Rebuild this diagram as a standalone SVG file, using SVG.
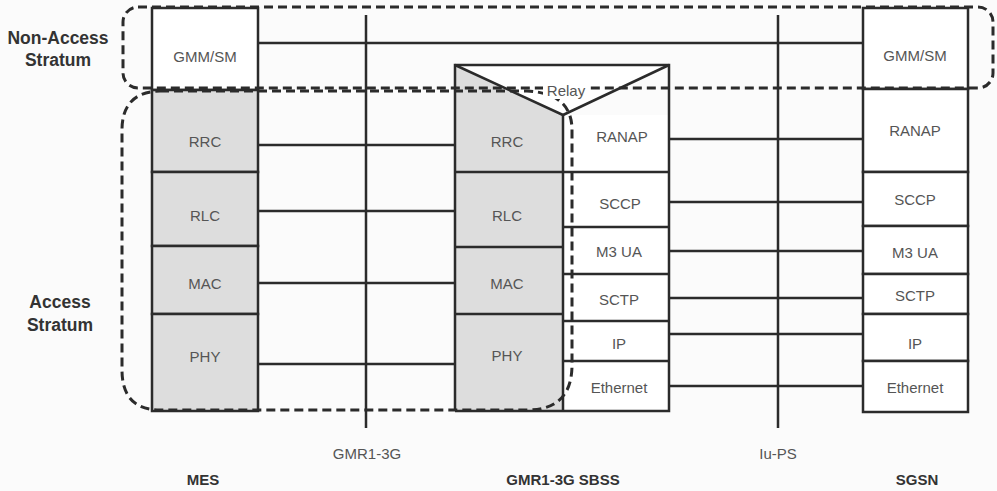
<svg xmlns="http://www.w3.org/2000/svg" width="997" height="491" viewBox="0 0 997 491">
<style>
.bg{fill:#fbfbfb}
.box{fill:#ffffff;stroke:#2b2b2b;stroke-width:2.5}
.gbox{fill:#dddddd;stroke:#2b2b2b;stroke-width:2.5}
.ln{stroke:#2b2b2b;stroke-width:2.5;fill:none}
.dash{stroke:#2b2b2b;stroke-width:3;fill:none;stroke-dasharray:9 5}
.lbl{font-family:"Liberation Sans",Arial,sans-serif;font-size:15px;fill:#555555;text-anchor:middle;dominant-baseline:central}
.bold{font-family:"Liberation Sans",Arial,sans-serif;font-size:15px;font-weight:bold;fill:#333333;text-anchor:middle}
.side{font-family:"Liberation Sans",Arial,sans-serif;font-size:17.5px;font-weight:bold;fill:#333333;text-anchor:middle}
</style>
<rect class="bg" x="0" y="0" width="997" height="491"/>

<g id="connectors">
<line class="ln" x1="366" y1="15" x2="366" y2="428"/>
<line class="ln" x1="778" y1="15" x2="778" y2="428"/>
<line class="ln" x1="258" y1="43" x2="863" y2="43"/>
<line class="ln" x1="258" y1="145" x2="455" y2="145"/>
<line class="ln" x1="258" y1="211" x2="455" y2="211"/>
<line class="ln" x1="258" y1="283" x2="455" y2="283"/>
<line class="ln" x1="258" y1="364" x2="455" y2="364"/>
<line class="ln" x1="669" y1="139" x2="863" y2="139"/>
<line class="ln" x1="669" y1="202" x2="863" y2="202"/>
<line class="ln" x1="669" y1="251" x2="863" y2="251"/>
<line class="ln" x1="669" y1="298" x2="863" y2="298"/>
<line class="ln" x1="669" y1="334" x2="863" y2="334"/>
<line class="ln" x1="669" y1="386" x2="863" y2="386"/>
</g>

<g id="mes">
<rect class="box" x="152" y="8" width="106" height="82"/>
<rect class="gbox" x="152" y="90" width="106" height="82"/>
<rect class="gbox" x="152" y="172" width="106" height="74"/>
<rect class="gbox" x="152" y="246" width="106" height="68"/>
<rect class="gbox" x="152" y="314" width="106" height="97"/>
<text class="lbl" x="205" y="56">GMM/SM</text>
<text class="lbl" x="205" y="141">RRC</text>
<text class="lbl" x="205" y="215">RLC</text>
<text class="lbl" x="205" y="283">MAC</text>
<text class="lbl" x="205" y="356">PHY</text>
<text class="bold" x="203" y="485">MES</text>
</g>

<g id="sbss">
<polygon points="455,65 563,115 563,411 455,411" fill="#dddddd"/>
<polygon points="455,65 669,65 563,115" fill="#ffffff"/>
<rect x="563" y="115" width="106" height="296" fill="#ffffff"/>
<polyline class="ln" points="455,411 455,65 669,65 669,411 455,411"/>
<polyline class="ln" points="455,65 563,115 669,65"/>
<line class="ln" x1="563" y1="115" x2="563" y2="411"/>
<line class="ln" x1="455" y1="172" x2="563" y2="172"/>
<line class="ln" x1="455" y1="247" x2="563" y2="247"/>
<line class="ln" x1="455" y1="314" x2="563" y2="314"/>
<line class="ln" x1="563" y1="172" x2="669" y2="172"/>
<line class="ln" x1="563" y1="227" x2="669" y2="227"/>
<line class="ln" x1="563" y1="274" x2="669" y2="274"/>
<line class="ln" x1="563" y1="321" x2="669" y2="321"/>
<line class="ln" x1="563" y1="361" x2="669" y2="361"/>
<text class="lbl" x="507" y="141">RRC</text>
<text class="lbl" x="507" y="215">RLC</text>
<text class="lbl" x="507" y="283">MAC</text>
<text class="lbl" x="507" y="355">PHY</text>
<text class="lbl" x="622" y="136">RANAP</text>
<text class="lbl" x="620" y="203">SCCP</text>
<text class="lbl" x="619" y="251">M3 UA</text>
<text class="lbl" x="619" y="299">SCTP</text>
<text class="lbl" x="619" y="343">IP</text>
<text class="lbl" x="619" y="387">Ethernet</text>
<text class="bold" x="563" y="485">GMR1-3G SBSS</text>
</g>

<g id="sgsn">
<rect class="box" x="863" y="8" width="105" height="81"/>
<rect class="box" x="863" y="89" width="105" height="83"/>
<rect class="box" x="863" y="172" width="105" height="54"/>
<rect class="box" x="863" y="226" width="105" height="48"/>
<rect class="box" x="863" y="274" width="105" height="40"/>
<rect class="box" x="863" y="314" width="105" height="47"/>
<rect class="box" x="863" y="361" width="105" height="51"/>
<text class="lbl" x="915" y="55">GMM/SM</text>
<text class="lbl" x="915" y="130">RANAP</text>
<text class="lbl" x="915" y="199">SCCP</text>
<text class="lbl" x="915" y="252">M3 UA</text>
<text class="lbl" x="915" y="295">SCTP</text>
<text class="lbl" x="915" y="343">IP</text>
<text class="lbl" x="915" y="387">Ethernet</text>
<text class="bold" x="917" y="485">SGSN</text>
</g>

<g id="non-access-stratum">
<rect class="dash" x="123" y="7" width="870" height="81" rx="15" ry="15"/>
<text class="side" x="58" y="44">Non-Access</text>
<text class="side" x="58" y="66">Stratum</text>
</g>

<g id="access-stratum">
<path class="dash" d="M160 91 L527 91 Q572 93 572 130 L572 365 Q572 410 527 410 L160 410 Q122 410 122 370 L122 130 Q122 92 160 91 Z"/>
<text class="side" x="60" y="308">Access</text>
<text class="side" x="60" y="331">Stratum</text>
</g>

<g id="relay">
<rect x="543" y="81" width="46" height="18" fill="#ffffff"/>
<text class="lbl" x="566" y="90">Relay</text>
</g>

<g id="interfaces">
<text class="lbl" x="367" y="453">GMR1-3G</text>
<text class="lbl" x="778" y="453">Iu-PS</text>
</g>
</svg>
